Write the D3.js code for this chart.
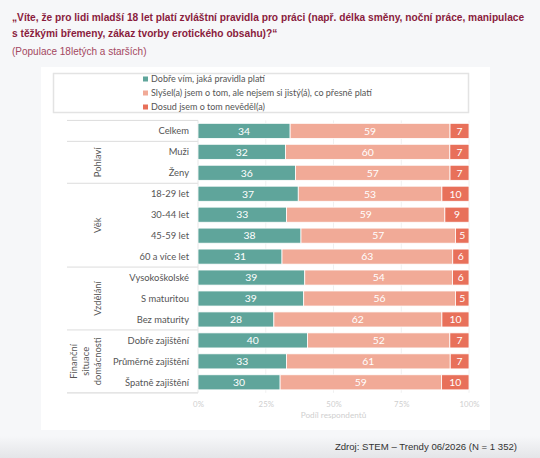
<!DOCTYPE html>
<html>
<head>
<meta charset="utf-8">
<script src="https://cdn.jsdelivr.net/npm/d3@7"></script>
<style>
  html, body { margin: 0; padding: 0; background: #f6f7f9; }
  svg { display: block; }
</style>
</head>
<body>
<svg id="chart"></svg>
<script>
/*################
Data
################*/
const categories = [
    'Celkem', 'Muži', 'Ženy',
    '18-29 let', '30-44 let', '45-59 let', '60 a více let',
    'Vysokoškolské', 'S maturitou', 'Bez maturity',
    'Dobře zajištění', 'Průměrně zajištění', 'Špatně zajištění'
];
// group each category belongs to
const groupOf = [
    '', 'Pohlaví', 'Pohlaví',
    'Věk', 'Věk', 'Věk', 'Věk',
    'Vzdělání', 'Vzdělání', 'Vzdělání',
    'Finanční', 'Finanční', 'Finanční'
];
const groupLabels = {
    'Pohlaví': ['Pohlaví'],
    'Věk': ['Věk'],
    'Vzdělání': ['Vzdělání'],
    'Finanční': ['Finanční', 'situace', 'domácnosti']
};
const seriesNames = [
    'Dobře vím, jaká pravidla platí',
    'Slyšel(a) jsem o tom, ale nejsem si jistý(á), co přesně platí',
    'Dosud jsem o tom nevěděl(a)'
];
const knowRules   = [34, 32, 36, 37, 33, 38, 31, 39, 39, 28, 40, 33, 30];
const heardUnsure = [59, 60, 57, 53, 59, 57, 63, 54, 56, 62, 52, 61, 59];
const notKnown    = [ 7,  7,  7, 10,  9,  5,  6,  6,  5, 10,  7,  7, 10];
const tickValues  = [0, 0.25, 0.5, 0.75, 1];
const colors = ['#5fa59b', '#f1aa97', '#e8705a'];

/*################
Setup
################*/
const width = 540, height = 458;
const svg = d3.select('#chart').attr('width', width).attr('height', height);

const defs = svg.append('defs');
const shade = defs.append('linearGradient').attr('id', 'shade')
    .attr('x1', 0).attr('y1', 0).attr('x2', 0).attr('y2', 1);
shade.append('stop').attr('offset', '0%').attr('stop-color', '#f6f7f9');
shade.append('stop').attr('offset', '100%').attr('stop-color', '#e4e5e8');
svg.append('rect').attr('x', 0).attr('y', 436).attr('width', width).attr('height', 22)
    .attr('fill', 'url(#shade)');

// title
const titleFont = '"Liberation Sans", Arial, sans-serif';
svg.append('text')
    .attr('x', 12).attr('y', 21)
    .attr('font-family', titleFont).attr('font-size', 10.2).attr('font-weight', 700)
    .attr('fill', '#8a1c3d')
    .call(t => t.append('tspan').attr('x', 12).attr('dy', 0)
        .text('„Víte, že pro lidi mladší 18 let platí zvláštní pravidla pro práci (např. délka směny, noční práce, manipulace'))
    .call(t => t.append('tspan').attr('x', 12).attr('dy', 15.5)
        .text('s těžkými břemeny, zákaz tvorby erotického obsahu)?“'));

svg.append('text')
    .attr('x', 12).attr('y', 55)
    .attr('font-family', titleFont).attr('font-size', 10)
    .attr('fill', '#a4475f')
    .text('(Populace 18letých a starších)');

svg.append('text')
    .attr('x', 517).attr('y', 450)
    .attr('text-anchor', 'end')
    .attr('font-family', titleFont).attr('font-size', 9.6)
    .attr('fill', '#333')
    .text('Zdroj: STEM – Trendy 06/2026 (N = 1 352)');

// white panel
svg.append('rect').attr('x', 41).attr('y', 67).attr('width', 449).attr('height', 363)
    .attr('fill', '#fff');

const chartFont = 'Lato, "Open Sans", sans-serif';

/*################
Legend
################*/
svg.append('rect').attr('x', 53.5).attr('y', 73.5).attr('width', 415).attr('height', 39)
    .attr('fill', 'none').attr('stroke', '#e3e3e3').attr('stroke-width', 1.5);

const legend = svg.append('g').selectAll('g')
    .data(seriesNames)
    .enter()
    .append('g')
    .attr('transform', (d, i) => `translate(143, ${79 + i * 14})`);
legend.append('rect')
    .attr('x', 0).attr('y', -2.5).attr('width', 5).attr('height', 5)
    .attr('fill', (d, i) => colors[i]);
legend.append('text')
    .attr('x', 8).attr('y', 3.2)
    .attr('font-family', chartFont).attr('font-size', 9)
    .attr('fill', '#555')
    .text(d => d);

/*################
Scales
################*/
const rows = categories.map((c, i) => ({
    category: c, know: knowRules[i], heard: heardUnsure[i], not: notKnown[i]
}));

const x = d3.scaleLinear().domain([0, 1]).range([198, 469]);
const y = d3.scaleBand().domain(categories).range([120.4, 392.8])
    .paddingInner(0.28).paddingOuter(0.14);
const step = y.step();
const gap = step * 0.28 / 2;

// grid
svg.append('g').selectAll('line')
    .data(tickValues.slice(1))
    .enter()
    .append('line')
    .attr('x1', d => x(d)).attr('x2', d => x(d))
    .attr('y1', 120.4).attr('y2', 392.8)
    .attr('stroke', '#ececec').attr('stroke-width', 0.8);

// axis
const axis = svg.append('g')
    .attr('transform', 'translate(0, 398)')
    .call(d3.axisBottom(x).tickValues(tickValues).tickFormat(d3.format('.0%')).tickSize(0));
axis.select('.domain').remove();
axis.selectAll('text')
    .attr('font-family', chartFont).attr('font-size', 7.8)
    .attr('fill', '#cfcfcf');

svg.append('text')
    .attr('x', x(0.5)).attr('y', 418)
    .attr('text-anchor', 'middle')
    .attr('font-family', chartFont).attr('font-size', 8.2)
    .attr('fill', '#cfcfcf')
    .text('Podíl respondentů');

/*################
Label table
################*/
const table = svg.append('g');
// group boundaries
const boundaries = [categories[0]];
categories.forEach((c, i) => {
    if (i > 0 && groupOf[i] !== groupOf[i - 1]) boundaries.push(c);
});
table.selectAll('line.sep')
    .data(boundaries)
    .enter()
    .append('line')
    .attr('class', 'sep')
    .attr('x1', 67).attr('x2', 198)
    .attr('y1', d => y(d) - gap).attr('y2', d => y(d) - gap)
    .attr('stroke', '#dcdcdc').attr('stroke-width', 1);
table.append('line')
    .attr('x1', 67).attr('x2', 198)
    .attr('y1', 392.8).attr('y2', 392.8)
    .attr('stroke', '#dcdcdc').attr('stroke-width', 1.2);
table.append('line')
    .attr('x1', 198).attr('x2', 198)
    .attr('y1', 120.4).attr('y2', 392.8)
    .attr('stroke', '#e6e6e6').attr('stroke-width', 1);

table.selectAll('text.row')
    .data(categories)
    .enter()
    .append('text')
    .attr('class', 'row')
    .attr('x', 189)
    .attr('y', d => y(d) + y.bandwidth() / 2 + 3.3)
    .attr('text-anchor', 'end')
    .attr('font-family', chartFont).attr('font-size', 9.4)
    .attr('fill', '#555')
    .text(d => d);

const groupNames = Object.keys(groupLabels);
table.selectAll('g.group')
    .data(groupNames)
    .enter()
    .append('g')
    .attr('class', 'group')
    .attr('transform', g => {
        const members = categories.filter((c, i) => groupOf[i] === g);
        const top = y(members[0]) - gap;
        const bottom = y(members[members.length - 1]) + y.bandwidth() + gap;
        const lines = groupLabels[g].length;
        const cx = 98 - (lines - 1) * 12;
        return `translate(${cx}, ${(top + bottom) / 2}) rotate(-90)`;
    })
    .each(function (g) {
        const t = d3.select(this).append('text')
            .attr('text-anchor', 'middle')
            .attr('font-family', chartFont).attr('font-size', 9.4)
            .attr('fill', '#555');
        groupLabels[g].forEach((line, i) => {
            t.append('tspan').attr('x', 0).attr('y', 3.3 + i * 12).text(line);
        });
    });

/*################
Bars
################*/
const stack = d3.stack()
    .keys(['know', 'heard', 'not'])
    .offset(d3.stackOffsetExpand);
const series = stack(rows);

const layers = svg.append('g').selectAll('g')
    .data(series)
    .enter()
    .append('g')
    .attr('fill', (d, i) => colors[i]);

layers.selectAll('rect')
    .data(d => d)
    .enter()
    .append('rect')
    .attr('x', d => x(d[0]))
    .attr('y', d => y(d.data.category))
    .attr('width', d => x(d[1]) - x(d[0]))
    .attr('height', y.bandwidth())
    .attr('stroke', '#fff')
    .attr('stroke-width', 0.8);

layers.each(function (s) {
    d3.select(this).selectAll('text')
        .data(s)
        .enter()
        .append('text')
        .attr('x', d => (x(d[0]) + x(d[1])) / 2)
        .attr('y', d => y(d.data.category) + y.bandwidth() / 2 + 3.8)
        .attr('text-anchor', 'middle')
        .attr('font-family', chartFont).attr('font-size', 10.4)
        .attr('fill', '#fff')
        .text(d => d.data[s.key]);
});
</script>
</body>
</html>
